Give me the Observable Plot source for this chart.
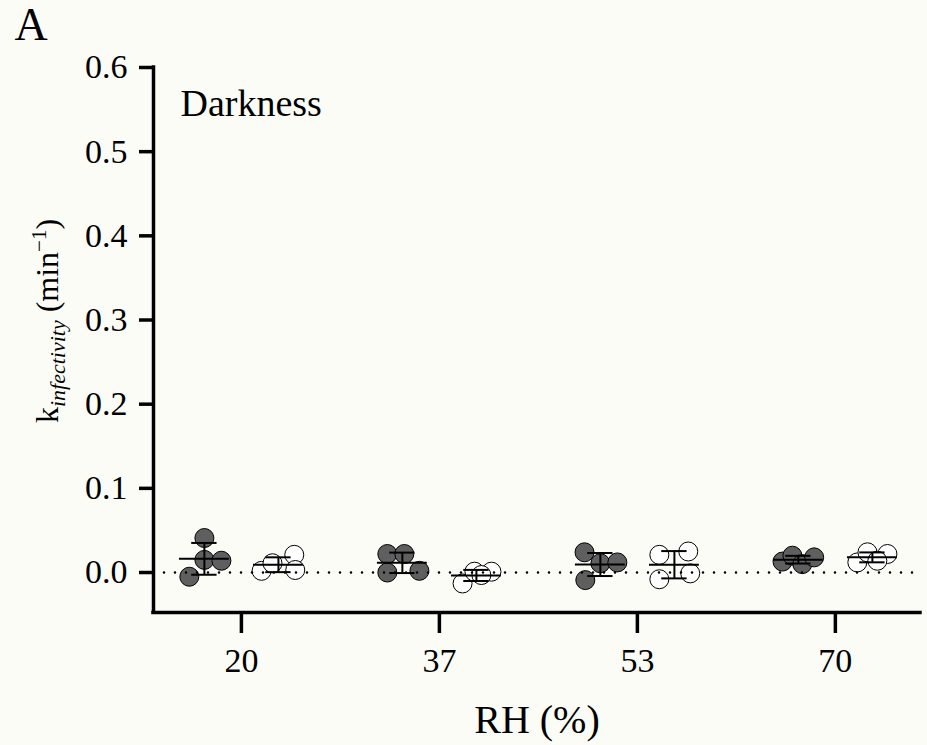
<!DOCTYPE html>
<html><head><meta charset="utf-8">
<script src="https://cdn.jsdelivr.net/npm/d3@7"></script>
<script src="https://cdn.jsdelivr.net/npm/@observablehq/plot@0.6"></script>
<style>
html,body{margin:0;padding:0;background:#fcfcf7;}
#chart{width:927px;height:745px;}
svg text{font-family:'Liberation Serif','DejaVu Serif',serif;}
</style></head><body><div id="chart"></div>
<script>
// ---- data ----
const rhLabels = ["20", "37", "53", "70"];
const yTicks = [0, 0.1, 0.2, 0.3, 0.4, 0.5, 0.6];
// filled (dark grey) replicates per RH
const darkValues = [
  [0.041, 0.015, 0.014, -0.005],
  [0.022, 0.022, 0.000, 0.002],
  [0.024, 0.011, 0.012, -0.009],
  [0.013, 0.020, 0.010, 0.018]
];
// horizontal jitter of each filled replicate (in category steps)
const darkJitter = [
  [0.00, 0.00, 0.086, -0.076],
  [-0.076, 0.01, -0.076, 0.086],
  [-0.08, 0.00, 0.086, -0.076],
  [-0.08, -0.03, 0.02, 0.08]
];
// open (white) replicates per RH
const lightValues = [
  [0.002, 0.011, 0.021, 0.003],
  [-0.013, 0.001, 0.001, -0.003],
  [0.021, 0.025, -0.008, -0.001],
  [0.012, 0.024, 0.022, 0.014]
];
const lightJitter = [
  [-0.085, -0.03, 0.08, 0.085],
  [-0.07, -0.01, 0.076, 0.025],
  [-0.076, 0.07, -0.076, 0.08],
  [-0.076, -0.025, 0.076, 0.025]
];
const panelLetter = "A";
const panelTitle = "Darkness";
const xTitle = "RH (%)";

// ---- build tables ----
const condShift = {dark: -0.187, light: 0.187};
const points = [];
const summary = [];
rhLabels.forEach((rh, i) => {
  [["dark", darkValues[i], darkJitter[i]], ["light", lightValues[i], lightJitter[i]]].forEach(([cond, vals, jit]) => {
    const cx = i + condShift[cond];
    vals.forEach((v, j) => points.push({cond, x: cx + jit[j], y: v}));
    summary.push({cond, x: cx, mean: d3.mean(vals), sd: d3.deviation(vals)});
  });
});

const xDomain = [-0.444, 3.43];
const yDomain = [-0.0475, 0.6];
const meanHalf = 0.126, capHalf = 0.064;
const font = "'Liberation Serif', 'DejaVu Serif', serif";

const plot = Plot.plot({
  width: 927,
  height: 745,
  marginLeft: 153,
  marginRight: 7,
  marginTop: 67,
  marginBottom: 133,
  style: {fontFamily: font, fontSize: "33px", background: "#fcfcf7", color: "black"},
  x: {type: "linear", domain: xDomain},
  y: {domain: yDomain},
  marks: [
    Plot.dot(points.filter(d => d.cond === "dark"), {x: "x", y: "y", r: 9.5, fill: "#5f5f5f", stroke: "black", strokeWidth: 1}),
    Plot.dot(points.filter(d => d.cond === "light"), {x: "x", y: "y", r: 9.5, fill: "white", stroke: "black", strokeWidth: 1}),
    Plot.ruleY([0], {stroke: "black", strokeWidth: 2.6, strokeDasharray: "0,11", strokeLinecap: "round"}),
    Plot.ruleX(summary, {x: "x", y1: d => d.mean - d.sd, y2: d => d.mean + d.sd, stroke: "black", strokeWidth: 2}),
    Plot.ruleY(summary, {y: d => d.mean + d.sd, x1: d => d.x - capHalf, x2: d => d.x + capHalf, stroke: "black", strokeWidth: 2}),
    Plot.ruleY(summary, {y: d => d.mean - d.sd, x1: d => d.x - capHalf, x2: d => d.x + capHalf, stroke: "black", strokeWidth: 2}),
    Plot.ruleY(summary, {y: "mean", x1: d => d.x - meanHalf, x2: d => d.x + meanHalf, stroke: "black", strokeWidth: 2}),
    Plot.ruleX([xDomain[0]], {y1: yDomain[0], y2: yDomain[1], stroke: "black", strokeWidth: 3.5, strokeLinecap: "square"}),
    Plot.ruleY([yDomain[0]], {stroke: "black", strokeWidth: 3.5, strokeLinecap: "square"}),
    Plot.axisY({ticks: yTicks, tickSize: 14, tickPadding: 12, strokeWidth: 3.5, tickFormat: d3.format(".1f"), label: null, fontSize: 34, fontFamily: font}),
    Plot.axisX({ticks: [0, 1, 2, 3], tickFormat: i => rhLabels[i], tickSize: 21, tickPadding: 14, strokeWidth: 3.5, label: null, fontSize: 34, fontFamily: font}),
    Plot.text([panelTitle], {frameAnchor: "top-left", dx: 27, dy: 36, textAnchor: "start", lineAnchor: "middle", fontSize: 38, fontFamily: font}),
    Plot.text([panelLetter], {frameAnchor: "top-left", dx: -139, dy: -60, textAnchor: "start", lineAnchor: "top", fontSize: 46, fontFamily: font}),
    Plot.text([xTitle], {frameAnchor: "bottom", dy: 108, lineAnchor: "middle", fontSize: 40, fontFamily: font})
  ]
});
document.getElementById("chart").appendChild(plot);

// y-axis title with italic subscript and superscript
const svg = d3.select(plot);
const t = svg.append("text")
  .attr("transform", "translate(58,321) rotate(-90)")
  .attr("text-anchor", "middle")
  .attr("font-family", font)
  .attr("font-size", 32)
  .attr("fill", "black");
t.append("tspan").text("k");
t.append("tspan").attr("font-style", "italic").attr("font-size", 22).attr("dy", 7).text("infectivity");
t.append("tspan").attr("dy", -7).text(" (min");
t.append("tspan").attr("font-size", 21).attr("dy", -12).text("\u22121");
t.append("tspan").attr("dy", 12).text(")");
</script>
</body></html>
